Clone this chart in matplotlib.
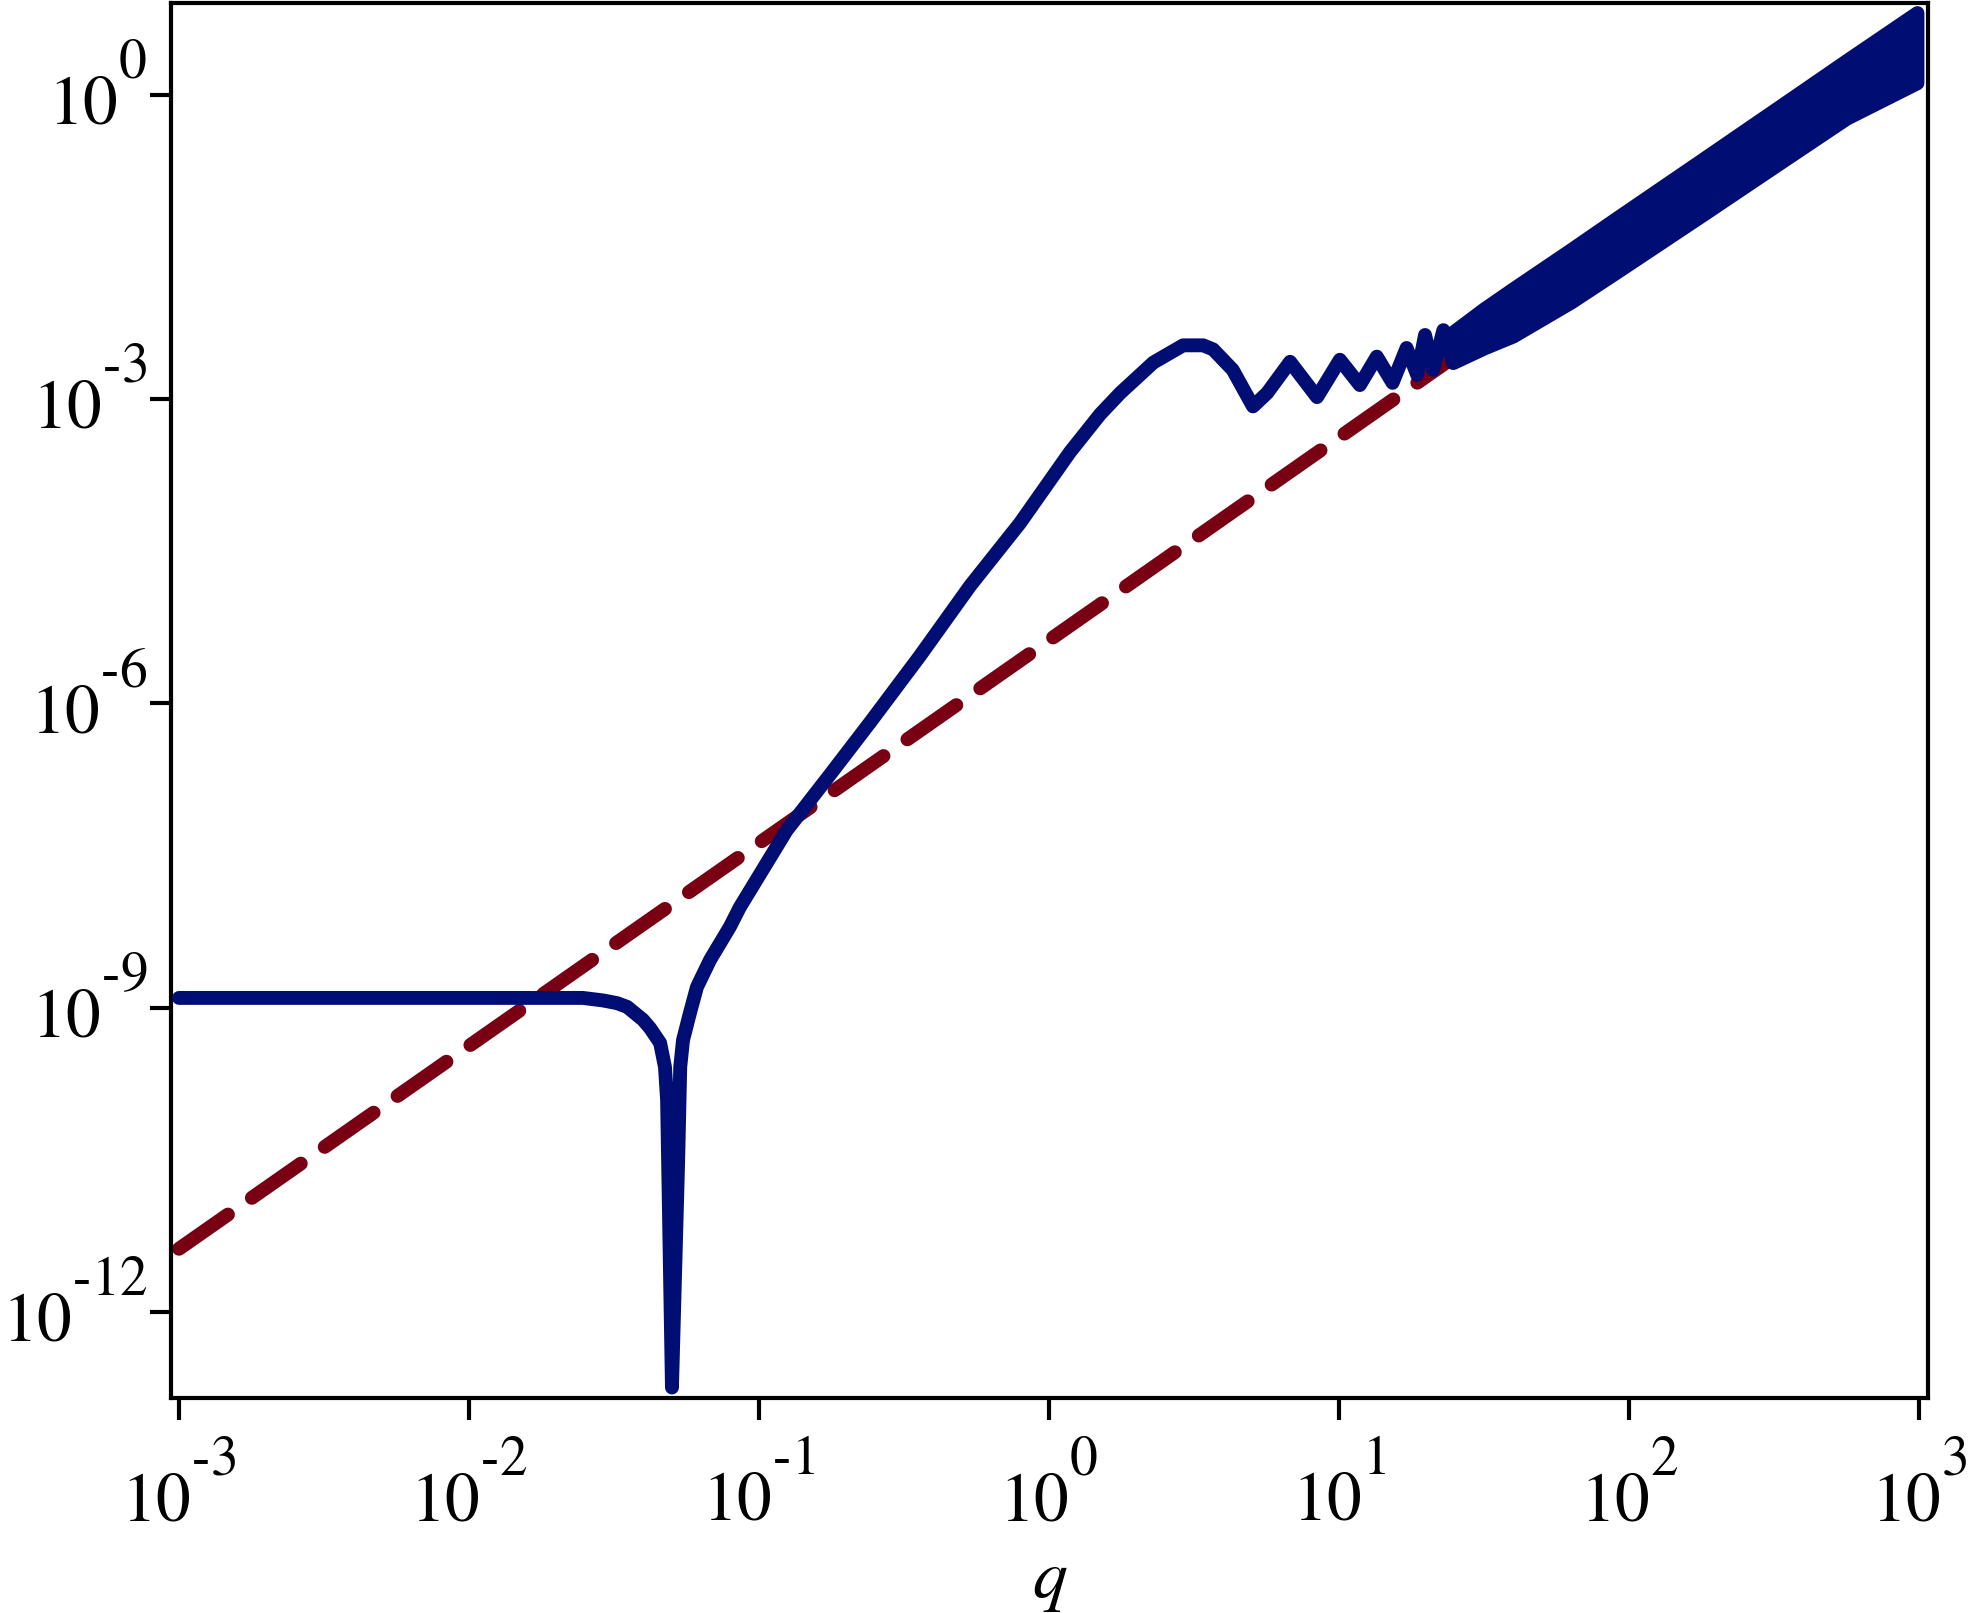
import matplotlib
matplotlib.use("Agg")
import matplotlib.pyplot as plt
import matplotlib._mathtext as mathtext

plt.rcParams['mathtext.fontset'] = 'stix'
plt.rcParams['font.family'] = ['Liberation Serif', 'DejaVu Serif']
plt.rcParams['lines.scale_dashes'] = False

# bigger, higher exponents like the original tick labels
mathtext.SHRINK_FACTOR = 0.8
mathtext.STIXFontConstants.sup1 = 1.5

BLUE = '#000e73'
RED = '#780012'

# red dashed reference line (straight in log-log), read at both ends
q_red = [1e-3, 1e3]
f_red = [4.2e-12, 4.2]

# blue curve: plateau, zero crossing near q=0.05, rise, oscillations
q_blue = [1e-3, 0.0190, 0.0247, 0.0290, 0.0324, 0.0351, 0.0398, 0.0421,
          0.0456, 0.0474, 0.0482, 0.0501, 0.0526, 0.0535, 0.0547, 0.0578,
          0.0611, 0.0678, 0.0794, 0.0859, 0.1245, 0.176, 0.2415, 0.359,
          0.535, 0.794, 1.18, 1.50, 1.76, 2.29, 2.9, 3.4, 3.68, 4.3,
          5.05, 5.65, 6.78, 8.4, 10.07, 11.8, 13.5, 15.3, 17.1, 18.6,
          19.8, 21.1, 22.9, 24.7]
f_blue = [1.25e-9, 1.25e-9, 1.25e-9, 1.18e-9, 1.11e-9, 1.02e-9, 7.6e-10, 6.3e-10,
          4.5e-10, 2.6e-10, 1.23e-10, 1.8e-13, 2.95e-11, 2.6e-10, 4.8e-10, 8.9e-10,
          1.6e-9, 2.96e-9, 6.3e-9, 9.8e-9, 5.6e-8, 2.0e-7, 6.5e-7, 2.95e-6,
          1.45e-5, 6.0e-5, 3.0e-4, 7.1e-4, 1.15e-3, 2.3e-3, 3.4e-3, 3.4e-3, 3.1e-3, 1.95e-3,
          8.5e-4, 1.15e-3, 2.34e-3, 1.05e-3, 2.45e-3, 1.38e-3, 2.63e-3, 1.45e-3, 3.2e-3, 1.74e-3,
          4.3e-3, 1.95e-3, 4.8e-3, 2.3e-3]

# fast oscillation at large q: envelope of the band
q_band = [24.7, 31.6, 39.8, 63.1, 91.2, 178, 339, 562, 984]
band_hi = [4.6e-3, 7.8e-3, 1.23e-2, 3.0e-2, 6.2e-2, 0.229, 0.81, 2.19, 6.5]
band_lo = [2.3e-3, 3.2e-3, 4.2e-3, 9.1e-3, 1.82e-2, 6.5e-2, 0.224, 0.59, 1.32]

x_ticks = [1e-3, 1e-2, 1e-1, 1e0, 1e1, 1e2, 1e3]
x_labels = ['$10^{\u2010 3}$', '$10^{\u2010 2}$', '$10^{\u2010 1}$', '$10^{0}$',
            '$10^{1}$', '$10^{2}$', '$10^{3}$']
y_ticks = [1e-12, 1e-9, 1e-6, 1e-3, 1e0]
y_labels = ['$10^{\u2010 12}$', '$10^{\u2010 9}$', '$10^{\u2010 6}$',
            '$10^{\u2010 3}$', '$10^{0}$']

fig = plt.figure(figsize=(19.7, 16.13), dpi=100)
ax = fig.add_axes([171 / 1970, 1 - 1398 / 1613, 1757 / 1970, 1395 / 1613])
ax.set_xscale('log')
ax.set_yscale('log')

ax.plot(q_red, f_red, color=RED, lw=10, linestyle=(0, (43, 21)),
        dash_capstyle='round', zorder=2)
ax.plot(q_blue, f_blue, color=BLUE, lw=10, solid_capstyle='round',
        solid_joinstyle='round', zorder=3)
band = ax.fill_between(q_band, band_lo, band_hi, facecolor=BLUE,
                       edgecolor=BLUE, linewidth=10, zorder=3)
band.set_joinstyle('round')

ax.set_xlim(10 ** -3.0276, 10 ** 3.031)
ax.set_ylim(10 ** -12.848, 10 ** 0.907)

ax.set_xticks(x_ticks)
ax.set_xticklabels(x_labels)
ax.set_yticks(y_ticks)
ax.set_yticklabels(y_labels)
ax.minorticks_off()
ax.tick_params(axis='x', direction='out', length=16, width=3, pad=19,
               labelsize=50)
ax.tick_params(axis='y', direction='out', length=15, width=3, pad=2,
               labelsize=50)
for lbl in ax.get_yticklabels():
    lbl.set_va('center')
for sp in ax.spines.values():
    sp.set_linewidth(3)

ax.set_xlabel('$q$', fontsize=50)
ax.xaxis.label.set_va('baseline')
ax.xaxis.set_label_coords(0.5, (1398 - 1598) / 1395)

fig.savefig('out.png', dpi=100)
